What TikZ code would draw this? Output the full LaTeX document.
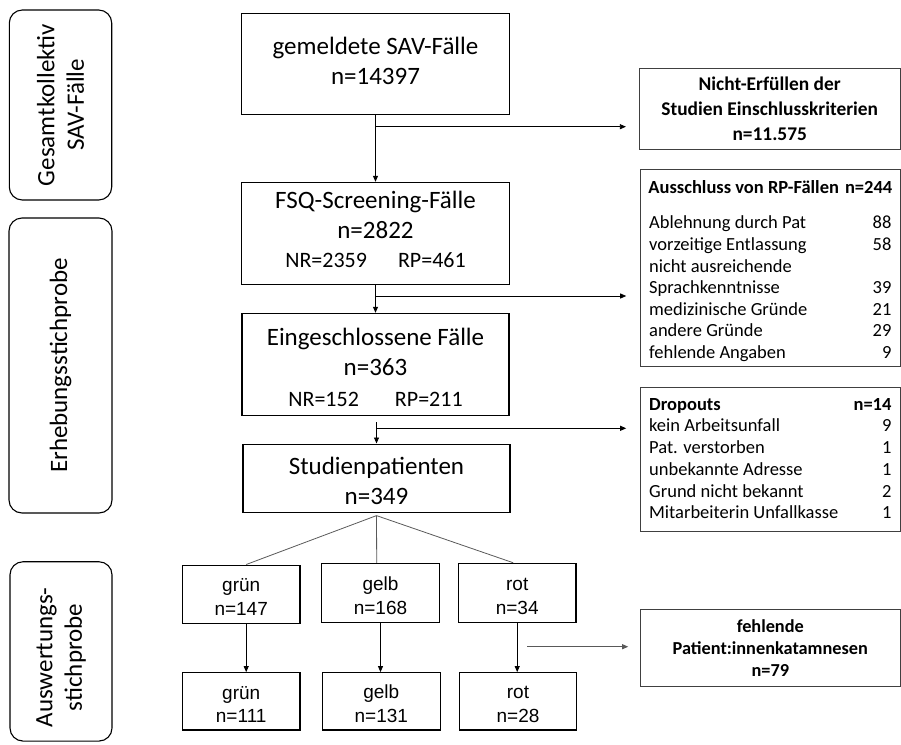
\documentclass[tikz,border=0pt]{standalone}
\usepackage{fontspec}
\setmainfont{Carlito}
\newfontfamily\arialf{Liberation Sans}
\usetikzlibrary{arrows.meta}
\begin{document}
\begin{tikzpicture}[x=1pt,y=-1pt,
  mainbox/.style={draw=black, line width=1.1pt, inner sep=0pt, align=center, font=\fontsize{25}{30}\selectfont},
  colbox/.style={draw=black, line width=1.1pt, inner sep=0pt, align=center, font=\arialf\fontsize{19}{23.5}\selectfont, minimum width=117.5pt},
  sidebox/.style={draw=black!75, line width=0.9pt, inner sep=0pt, minimum width=259.3pt},
  phase/.style={draw=black, line width=1.1pt, rounded corners=13pt, inner sep=0pt, rotate=90, align=center, font=\fontsize{25}{29.5}\selectfont},
  arr/.style={line width=0.8pt, -{Triangle[length=6pt,width=5pt]}},
  split/.style={line width=0.8pt, draw=black!65},
]
\useasboundingbox (0,0) rectangle (901,744);

% phase labels
\node[phase, minimum width=190pt, minimum height=102.4pt] (pa) at (60.5,105) {Gesamtkollektiv\\SAV-Fälle};
\node[phase, minimum width=295pt, minimum height=103pt] (pb) at (60.5,365.5) {Erhebungsstichprobe};
\node[phase, minimum width=179.3pt, minimum height=102pt] (pc) at (61,651.4) {Auswertungs-\hspace*{12pt}\\stichprobe\hspace*{12pt}};

% main flow
\node[mainbox, minimum width=268pt, minimum height=101.4pt] (b1) at (375.5,64) {gemeldete SAV-Fälle\\n=14397\rule[-5.4pt]{0pt}{5.4pt}};
\node[mainbox, minimum width=268pt, minimum height=101.7pt] (b2) at (375.5,233.2) {FSQ-Screening-Fälle\\n=2822\\[-1pt]{\fontsize{22}{26}\selectfont NR=2359\hspace{31pt}RP=461}\rule[-8pt]{0pt}{8pt}};
\node[mainbox, minimum width=267pt, minimum height=101.7pt] (b3) at (375.5,364.2) {\rule{0pt}{24pt}Eingeschlossene Fälle\\n=363\\[1pt]{\fontsize{22}{26}\selectfont NR=152\hspace{36pt}RP=211}};
\node[mainbox, minimum width=267pt, minimum height=68.3pt] (b4) at (376.5,478.2) {\rule{0pt}{23pt}Studienpatienten\\n=349};

% side boxes
\node[sidebox, minimum width=260.7pt, minimum height=81pt, align=center, font=\bfseries\fontsize{19.4}{25}\selectfont] (nicht) at (769.7,108.5) {Nicht-Erfüllen der\\Studien Einschlusskriterien\\n=11.575};
\node[sidebox, minimum height=196.7pt, align=left, font=\fontsize{18.5}{21.6}\selectfont] (aus) at (770.3,267.7) {%
\makebox[242.3pt]{\rule{0pt}{20pt}\textbf{Ausschluss von RP-Fällen}\hspace{6pt}\hfill\textbf{n=244}}\\[13.4pt]
\makebox[242.3pt]{Ablehnung durch Pat\hfill 88}\\
\makebox[242.3pt]{vorzeitige Entlassung\hfill 58}\\
\makebox[242.3pt]{nicht ausreichende\hfill}\\
\makebox[242.3pt]{Sprachkenntnisse\hfill 39}\\
\makebox[242.3pt]{medizinische Gründe\hfill 21}\\
\makebox[242.3pt]{andere Gründe\hfill 29}\\
\makebox[242.3pt]{fehlende Angaben\hfill 9}};
\node[sidebox, minimum height=144.4pt, align=left, font=\fontsize{18.5}{21.7}\selectfont] (drop) at (770.3,459.5) {%
\makebox[242.3pt]{\textbf{Dropouts}\hfill\textbf{n=14}}\\
\makebox[242.3pt]{kein Arbeitsunfall\hfill 9}\\
\makebox[242.3pt]{Pat. verstorben\hfill 1}\\
\makebox[242.3pt]{unbekannte Adresse\hfill 1}\\
\makebox[242.3pt]{Grund nicht bekannt\hfill 2}\\
\makebox[242.3pt]{Mitarbeiterin Unfallkasse\hfill 1}\rule[-2pt]{0pt}{2pt}};
\node[sidebox, minimum height=77.4pt, align=center, font=\bfseries\fontsize{18.3}{21.7}\selectfont] (feh) at (770.3,648) {fehlende\\Patient:innenkatamnesen\\n=79};

% colour groups
\node[colbox, minimum height=58.3pt] (g1) at (241.2,594.2) {\rule{0pt}{19pt}grün\\n=147};
\node[colbox, minimum height=59.4pt] (y1) at (380.5,593) {\rule{0pt}{19pt}gelb\\n=168};
\node[colbox, minimum height=59.4pt] (r1) at (517.2,593) {\rule{0pt}{19pt}rot\\n=34};
\node[colbox, minimum height=57.3pt] (g2) at (241.2,701.3) {\rule{0pt}{19pt}grün\\n=111};
\node[colbox, minimum height=57.3pt] (y2) at (381.3,701.3) {\rule{0pt}{19pt}gelb\\n=131};
\node[colbox, minimum height=57.3pt] (r2) at (518,701.3) {\rule{0pt}{19pt}rot\\n=28};

% junctions
\coordinate (j1) at (375.5,126.7);
\coordinate (j2) at (375.5,296);
\coordinate (j3) at (376.5,428.3);
\coordinate (j4) at (527.3,646.7);

% connectors
\draw[arr] (b1.south) -- (b2.north);
\draw[arr, shorten >=13pt] (j1) -- (nicht.west |- j1);
\draw[arr] (b2.south) -- (b3.north);
\draw[arr, shorten >=14pt] (j2) -- (aus.west |- j2);
\draw[arr] ([yshift=-6.7pt]b4.north |- b3.south) -- (b4.north);
\draw[arr, shorten >=14pt] (j3) -- (drop.west |- j3);
\draw[split] ([yshift=-2.7pt]b4.south) -- ([xshift=5pt]g1.north);
\draw[split] ([yshift=-2.7pt]b4.south) -- ([xshift=-3.8pt]y1.north);
\draw[split] ([yshift=-2.7pt]b4.south) -- ([xshift=-4pt]r1.north);
\draw[arr] ([xshift=5pt]g1.south) -- ([xshift=5pt]g2.north);
\draw[arr] (y1.south) -- (y1.south |- y2.north);
\draw[arr] (r1.south) -- (r1.south |- r2.north);
\draw[split, arr, draw=black!65, shorten >=12pt] (j4) -- (feh.west |- j4);
\end{tikzpicture}
\end{document}
